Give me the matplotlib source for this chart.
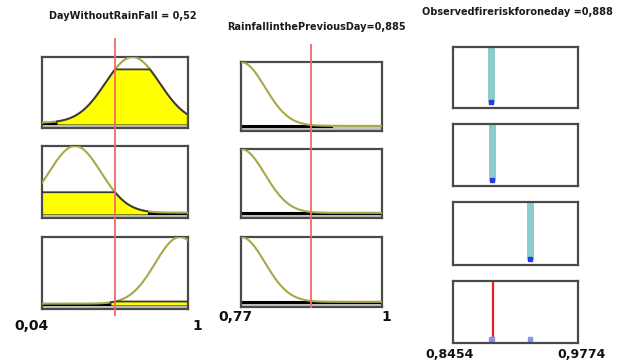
import numpy as np
import matplotlib
matplotlib.use("Agg")
import matplotlib.pyplot as plt

# input 1: DayWithoutRainFall
in1_range = [0.04, 1.0]
in1_value = 0.52
in1_centers = [0.635, 0.257, 0.947]
in1_sigmas = [0.178, 0.171, 0.163]

# input 2: RainfallinthePreviousDay
in2_range = [0.77, 1.0]
in2_value = 0.885
in2_centers = [0.77, 0.77, 0.77]
in2_sigmas = [0.039, 0.039, 0.039]
in2_base_end = [0.917, 1.0, 1.0]

# output: Observedfireriskforoneday
out_range = [0.8454, 0.9774]
out_value = 0.888
out_singletons = [0.8855, 0.8869, 0.9267]
out_heights = [1.0, 1.0, 1.0]

W, H = 623, 364
fig = plt.figure(figsize=(W / 100, H / 100), dpi=100)
fig.patch.set_facecolor("white")


def px_axes(x0, y0, x1, y1):
    return fig.add_axes([x0 / W, 1 - y1 / H, (x1 - x0) / W, (y1 - y0) / H])


def style_box(ax):
    ax.set_xticks([])
    ax.set_yticks([])
    for s in ax.spines.values():
        s.set_color("#4a4a4a")
        s.set_linewidth(1.6)


def input_box(ax, rng, value, c, s, base_end=None):
    x = np.linspace(rng[0], rng[1], 400)
    mu = np.exp(-(x - c) ** 2 / (2 * s ** 2))
    level = np.exp(-(value - c) ** 2 / (2 * s ** 2))
    clip = np.minimum(mu, level)
    ax.set_xlim(rng)
    ax.set_ylim(-0.08, 1.0)
    ax.axhspan(-0.08, 0, color="#c4c4c4", zorder=0)
    end = rng[1] if base_end is None else base_end
    ax.plot([rng[0], end], [0, 0], color="black", lw=2.2, zorder=1)
    ax.fill_between(x, -0.02, clip, where=clip > 0.02, color="#ffff00", lw=0, zorder=2)
    ax.plot(x, mu, color="#a8a848", lw=1.5, zorder=3)
    ax.plot(x[clip > 0.02], clip[clip > 0.02], color="#383838", lw=1.3, zorder=4)
    style_box(ax)


# column 1
col1_rows = [(57, 128), (146, 218), (237, 309)]
for (y0, y1), c, s in zip(col1_rows, in1_centers, in1_sigmas):
    input_box(px_axes(42, y0, 188, y1), in1_range, in1_value, c, s)

ov = px_axes(42, 38, 188, 316)
ov.set_xlim(in1_range)
ov.axvline(in1_value, color="#f06a6a", lw=1.3)
ov.axis("off")
ov.patch.set_alpha(0)

# column 2
col2_rows = [(62, 131), (149, 218), (237, 307)]
for (y0, y1), c, s, be in zip(col2_rows, in2_centers, in2_sigmas, in2_base_end):
    input_box(px_axes(241, y0, 382, y1), in2_range, in2_value, c, s, be)

ov = px_axes(241, 44, 382, 308)
ov.set_xlim(in2_range)
ov.axvline(in2_value, color="#f06a6a", lw=1.3)
ov.axis("off")
ov.patch.set_alpha(0)

# column 3
col3_rows = [(47, 108), (124, 186), (202, 265)]
for (y0, y1), pos, h in zip(col3_rows, out_singletons, out_heights):
    ax = px_axes(453, y0, 578, y1)
    ax.set_xlim(out_range)
    ax.set_ylim(-0.1, 1.0)
    ax.plot([pos, pos], [0, h], color="#8ccccc", lw=5, solid_capstyle="butt")
    ax.plot([pos], [0], marker="s", ms=3.5, color="#2a3ae0", mec="#2a3ae0")
    style_box(ax)

ax = px_axes(453, 281, 578, 343)
ax.set_xlim(out_range)
ax.set_ylim(-0.1, 1.0)
ax.axvline(out_value, color="#ee1c1c", lw=1.6)
ax.plot(out_singletons, [-0.03] * len(out_singletons), ls="none", marker="s", ms=2.5,
        color="#8890f0", mec="#8890f0")
style_box(ax)

# titles and range labels
tkw = dict(ha="center", va="center", fontsize=7, fontweight="bold", color="#1a1a1a")
fig.text(123 / W, 1 - 16 / H, "DayWithoutRainFall = 0,52", **tkw)
fig.text(316 / W, 1 - 27 / H, "RainfallinthePreviousDay=0,885", **tkw)
fig.text(517 / W, 1 - 12 / H, "Observedfireriskforoneday =0,888", **tkw)

lkw = dict(va="center", fontsize=10, fontweight="bold", color="#111111")
fig.text(14 / W, 1 - 326 / H, "0,04", ha="left", **lkw)
fig.text(197 / W, 1 - 326 / H, "1", ha="center", **lkw)
fig.text(218 / W, 1 - 317 / H, "0,77", ha="left", **lkw)
fig.text(386 / W, 1 - 317 / H, "1", ha="center", **lkw)
fig.text(425 / W, 1 - 354 / H, "0,8454", ha="left", fontsize=9, fontweight="bold",
         va="center", color="#111111")
fig.text(557 / W, 1 - 354 / H, "0,9774", ha="left", fontsize=9, fontweight="bold",
         va="center", color="#111111")

fig.savefig("out.png", dpi=100)
